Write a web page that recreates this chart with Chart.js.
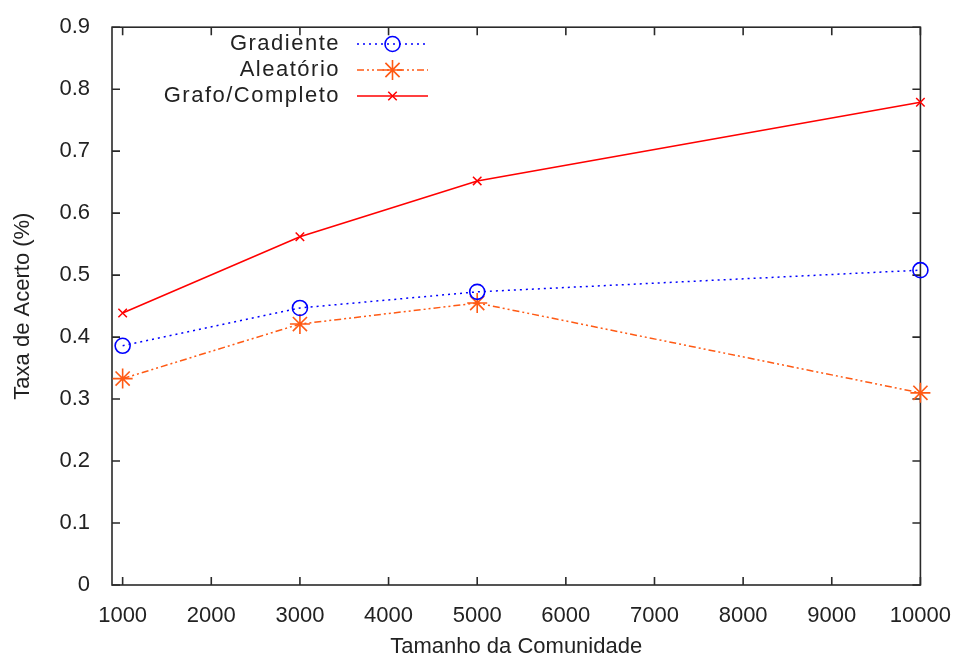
<!DOCTYPE html>
<html>
<head>
<meta charset="utf-8">
<style>
  html, body { margin: 0; padding: 0; background: #ffffff; }
  canvas { display: block; }
</style>
<script src="https://cdn.jsdelivr.net/npm/chart.js@4.4.1/dist/chart.umd.min.js"></script>
</head>
<body>
<canvas id="c" width="961" height="659"></canvas>
<script>
// ---- data ----
const communitySizes = [1000, 3000, 5000, 10000];
const gradiente      = [0.386, 0.447, 0.473, 0.508];
const aleatorio      = [0.333, 0.421, 0.455, 0.310];
const grafoCompleto  = [0.439, 0.562, 0.652, 0.779];
const seriesNames    = ['Gradiente', 'Aleatório', 'Grafo/Completo'];
const xTicks = [1000, 2000, 3000, 4000, 5000, 6000, 7000, 8000, 9000, 10000];
const yTicks = [0, 0.1, 0.2, 0.3, 0.4, 0.5, 0.6, 0.7, 0.8, 0.9];
const yTickLabels = ['0', '0.1', '0.2', '0.3', '0.4', '0.5', '0.6', '0.7', '0.8', '0.9'];
const xTitle = 'Tamanho da Comunidade';
const yTitle = 'Taxa de Acerto (%)';

const FONT = 'Liberation Sans, Arial, Helvetica, sans-serif';
const TEXT = '#222222';

function pts(vals) { return communitySizes.map((x, i) => ({ x: x, y: vals[i] })); }

const datasets = [
  { label: seriesNames[0], data: pts(gradiente), borderColor: '#0000ff', backgroundColor: 'rgba(0,0,0,0)',
    borderWidth: 1.5, borderDash: [2, 4], pointStyle: 'circle', pointRadius: 7.5, pointBorderWidth: 1.6,
    pointBorderColor: '#0000ff', pointBackgroundColor: 'rgba(0,0,0,0)', clip: false },
  { label: seriesNames[1], data: pts(aleatorio), borderColor: '#ff5a14', backgroundColor: 'rgba(0,0,0,0)',
    borderWidth: 1.5, borderDash: [7, 3, 2, 3, 2, 3], pointStyle: 'star', pointRadius: 10, pointBorderWidth: 1.6,
    pointBorderColor: '#ff5a14', pointBackgroundColor: 'rgba(0,0,0,0)', clip: false },
  { label: seriesNames[2], data: pts(grafoCompleto), borderColor: '#ff0000', backgroundColor: 'rgba(0,0,0,0)',
    borderWidth: 1.6, borderDash: [], pointStyle: 'crossRot', pointRadius: 6, pointBorderWidth: 1.5,
    pointBorderColor: '#ff0000', pointBackgroundColor: 'rgba(0,0,0,0)', clip: false }
];

// frame with inward ticks on all four sides (gnuplot style)
const framePlugin = {
  id: 'frame',
  beforeDatasetsDraw(chart) {
    const { ctx, chartArea: a, scales } = chart;
    ctx.save();
    ctx.strokeStyle = '#2a2a2a';
    ctx.lineWidth = 1.6;
    ctx.strokeRect(a.left, a.top, a.right - a.left, a.bottom - a.top);
    const L = 8;
    ctx.beginPath();
    scales.x.ticks.forEach(t => {
      const px = scales.x.getPixelForValue(t.value);
      ctx.moveTo(px, a.bottom); ctx.lineTo(px, a.bottom - L);
      ctx.moveTo(px, a.top); ctx.lineTo(px, a.top + L);
    });
    scales.y.ticks.forEach(t => {
      const py = scales.y.getPixelForValue(t.value);
      ctx.moveTo(a.left, py); ctx.lineTo(a.left + L, py);
      ctx.moveTo(a.right, py); ctx.lineTo(a.right - L, py);
    });
    ctx.stroke();
    ctx.restore();
  }
};

// gnuplot-like key: right-aligned text, sample line + marker to its right
const keyPlugin = {
  id: 'gkey',
  afterDraw(chart) {
    const ctx = chart.ctx;
    const textRight = 340, lineX0 = 357, lineX1 = 428, y0 = 44, dy = 26;
    ctx.save();
    chart.data.datasets.forEach((ds, i) => {
      const y = y0 + i * dy;
      ctx.font = '22px ' + FONT;
      try { ctx.letterSpacing = '1.5px'; } catch (e) {}
      ctx.fillStyle = TEXT;
      ctx.textAlign = 'right';
      ctx.textBaseline = 'middle';
      ctx.fillText(ds.label, textRight, y);
      try { ctx.letterSpacing = '0px'; } catch (e) {}
      ctx.strokeStyle = ds.borderColor;
      ctx.lineWidth = ds.borderWidth;
      ctx.setLineDash(ds.borderDash || []);
      ctx.beginPath();
      ctx.moveTo(lineX0, y); ctx.lineTo(lineX1, y);
      ctx.stroke();
      ctx.setLineDash([]);
      ctx.fillStyle = 'rgba(0,0,0,0)';
      ctx.lineWidth = ds.pointBorderWidth;
      Chart.helpers.drawPoint(ctx, {
        pointStyle: ds.pointStyle, radius: ds.pointRadius, rotation: 0, borderWidth: ds.pointBorderWidth
      }, (lineX0 + lineX1) / 2, y);
    });
    ctx.restore();
  }
};

new Chart(document.getElementById('c'), {
  type: 'line',
  data: { datasets: datasets },
  options: {
    responsive: false,
    animation: false,
    devicePixelRatio: 1,
    layout: { padding: { top: 22, right: 40, left: 0, bottom: 0 } },
    plugins: { legend: { display: false }, tooltip: { enabled: false } },
    scales: {
      x: {
        type: 'linear', min: 880, max: 10000,
        afterBuildTicks: s => { s.ticks = xTicks.map(v => ({ value: v })); },
        afterFit: s => { s.height = 74; },
        grid: { display: false }, border: { display: false },
        ticks: { autoSkip: false, maxRotation: 0, padding: 10, color: TEXT,
                 font: { family: FONT, size: 22 }, callback: v => String(v) },
        title: { display: true, text: xTitle, color: TEXT, padding: { top: 0, bottom: 1 },
                 font: { family: FONT, size: 22, lineHeight: 1 } }
      },
      y: {
        type: 'linear', min: 0, max: 0.9,
        afterBuildTicks: s => { s.ticks = yTicks.map(v => ({ value: v })); },
        afterFit: s => { s.width = 112; },
        grid: { display: false }, border: { display: false },
        ticks: { autoSkip: false, padding: 14, color: TEXT,
                 font: { family: FONT, size: 22 }, callback: (v, i) => yTickLabels[i] },
        title: { display: true, text: yTitle, color: TEXT, padding: { top: 12, bottom: 0 },
                 font: { family: FONT, size: 22, lineHeight: 1 } }
      }
    }
  },
  plugins: [framePlugin, keyPlugin]
});
</script>
</body>
</html>
